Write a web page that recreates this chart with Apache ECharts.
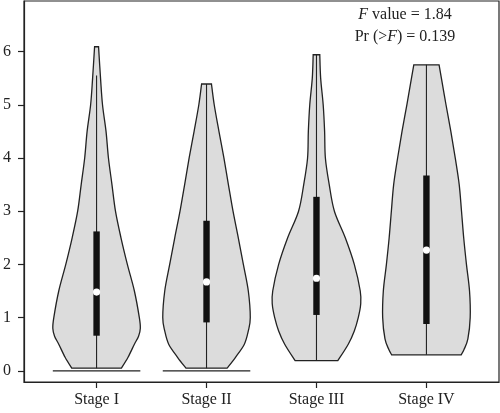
<!DOCTYPE html>
<html>
<head>
<meta charset="utf-8">
<script src="https://cdn.jsdelivr.net/npm/echarts@6/dist/echarts.min.js"></script>
<style>html,body{margin:0;padding:0;background:#fff;}#c{width:500px;height:413px;}</style>
</head>
<body>
<div id="c"></div>
<script>
const stages = ['Stage I', 'Stage II', 'Stage III', 'Stage IV'];
const yTicks = [0, 1, 2, 3, 4, 5, 6];

// violin outline: value levels and half-widths (in category units)
const levelsI   = [0.05, 0.25, 0.5, 0.65, 0.8, 1.0, 1.5, 2.0, 2.5, 3.0, 3.5, 4.0, 4.5, 5.0, 5.5, 6.09];
const widthsI   = [0.226, 0.285, 0.344, 0.382, 0.398, 0.389, 0.344, 0.280, 0.222, 0.172, 0.140, 0.108, 0.086, 0.054, 0.036, 0.018];
const levelsII  = [0.05, 0.25, 0.5, 0.75, 1.0, 1.5, 2.0, 2.5, 3.0, 3.5, 4.0, 4.5, 5.0, 5.39];
const widthsII  = [0.187, 0.262, 0.344, 0.380, 0.398, 0.380, 0.335, 0.289, 0.241, 0.199, 0.158, 0.113, 0.070, 0.045];
const levelsIII = [0.19, 0.5, 0.75, 1.0, 1.25, 1.5, 2.0, 2.5, 3.0, 3.5, 4.0, 4.5, 5.0, 5.5, 5.94];
const widthsIII = [0.194, 0.289, 0.344, 0.380, 0.402, 0.398, 0.344, 0.262, 0.163, 0.116, 0.081, 0.074, 0.061, 0.038, 0.030];
const levelsIV  = [0.30, 0.4, 0.6, 1.0, 1.5, 2.0, 2.5, 3.0, 3.5, 4.0, 4.5, 5.0, 5.5, 5.75];
const widthsIV  = [0.316, 0.342, 0.377, 0.398, 0.392, 0.364, 0.339, 0.319, 0.298, 0.262, 0.222, 0.178, 0.136, 0.115];

// box plot summaries
const whiskerLow  = [0.05, 0.05, 0.19, 0.30];
const q1Values    = [0.66, 0.91, 1.05, 0.88];
const medianVals  = [1.48, 1.67, 1.74, 2.27];
const q3Values    = [2.62, 2.82, 3.27, 3.67];
const whiskerHigh = [5.55, 5.39, 5.94, 5.75];

// flat base line at zero (half-width), null if none
const baseHalfWidth = [0.398, 0.398, null, null];

const allLevels = [levelsI, levelsII, levelsIII, levelsIV];
const allWidths = [widthsI, widthsII, widthsIII, widthsIV];

const ink = '#222';

// smooth curve (Catmull-Rom -> cubic Bezier) through pixel points
function curveThrough(pts) {
  let d = '';
  for (let k = 0; k < pts.length - 1; k++) {
    const p0 = pts[Math.max(k - 1, 0)], p1 = pts[k], p2 = pts[k + 1], p3 = pts[Math.min(k + 2, pts.length - 1)];
    const c1 = [p1[0] + (p2[0] - p0[0]) / 6, p1[1] + (p2[1] - p0[1]) / 6];
    const c2 = [p2[0] - (p3[0] - p1[0]) / 6, p2[1] - (p3[1] - p1[1]) / 6];
    d += ' C' + c1[0].toFixed(2) + ' ' + c1[1].toFixed(2) + ' ' + c2[0].toFixed(2) + ' ' + c2[1].toFixed(2) + ' ' + p2[0].toFixed(2) + ' ' + p2[1].toFixed(2);
  }
  return d;
}

function renderViolin(params, api) {
  const i = api.value(0) - 1;
  const cx = i + 1;
  const lv = allLevels[i], wd = allWidths[i];
  const left = [], right = [];
  for (let k = 0; k < lv.length; k++) left.push(api.coord([cx - wd[k], lv[k]]));
  for (let k = lv.length - 1; k >= 0; k--) right.push(api.coord([cx + wd[k], lv[k]]));
  let d = 'M' + left[0][0].toFixed(2) + ' ' + left[0][1].toFixed(2) + curveThrough(left);
  d += ' L' + right[0][0].toFixed(2) + ' ' + right[0][1].toFixed(2) + curveThrough(right) + ' Z';
  const children = [];
  children.push({
    type: 'path',
    shape: { pathData: d },
    style: { fill: '#dcdcdc', stroke: ink, lineWidth: 1.3 }
  });
  if (baseHalfWidth[i] != null) {
    const a = api.coord([cx - baseHalfWidth[i], 0]);
    const b = api.coord([cx + baseHalfWidth[i], 0]);
    children.push({ type: 'line', shape: { x1: a[0], y1: a[1], x2: b[0], y2: b[1] }, style: { stroke: ink, lineWidth: 1.3 } });
  }
  const wl = api.coord([cx, whiskerLow[i]]);
  const wh = api.coord([cx, whiskerHigh[i]]);
  children.push({ type: 'line', shape: { x1: wl[0], y1: wl[1], x2: wh[0], y2: wh[1] }, style: { stroke: ink, lineWidth: 1.1 } });
  const b1 = api.coord([cx, q1Values[i]]);
  const b3 = api.coord([cx, q3Values[i]]);
  children.push({ type: 'rect', shape: { x: b1[0] - 3.2, y: b3[1], width: 6.4, height: b1[1] - b3[1] }, style: { fill: '#111' } });
  const m = api.coord([cx, medianVals[i]]);
  children.push({ type: 'circle', shape: { cx: m[0], cy: m[1], r: 3.6 }, style: { fill: '#fff' } });
  return { type: 'group', children: children };
}

const chart = echarts.init(document.getElementById('c'), null, { renderer: 'canvas' });
const font = 'Liberation Serif';
const richItalic = { i: { fontStyle: 'italic', fontFamily: font, fontSize: 16, fill: ink } };
chart.setOption({
  animation: false,
  backgroundColor: '#fff',
  grid: { left: 21, right: 1, top: 1, bottom: 31, show: true, borderColor: ink, borderWidth: 1.2, backgroundColor: 'transparent' },
  xAxis: {
    type: 'value', min: 0.34, max: 4.66,
    splitLine: { show: false },
    axisLine: { show: true, onZero: false, lineStyle: { color: ink, width: 1.2 } },
    axisTick: { show: true, length: 6, customValues: [1, 2, 3, 4], lineStyle: { color: ink, width: 1.2 } },
    axisLabel: { customValues: [1, 2, 3, 4], formatter: v => stages[Math.round(v) - 1], color: ink, fontFamily: font, fontSize: 16, margin: 10 }
  },
  yAxis: {
    type: 'value', min: -0.21, max: 6.95,
    splitLine: { show: false },
    axisLine: { show: true, onZero: false, lineStyle: { color: ink, width: 1.2 } },
    axisTick: { show: true, length: 6, customValues: yTicks, lineStyle: { color: ink, width: 1.2 } },
    axisLabel: { customValues: yTicks, color: ink, fontFamily: font, fontSize: 16, margin: 13 }
  },
  graphic: [
    { type: 'text', x: 405, y: 15, style: { text: '{i|F} value = 1.84', rich: richItalic, fontFamily: font, fontSize: 16, fill: ink, align: 'center', verticalAlign: 'middle' } },
    { type: 'text', x: 405, y: 37, style: { text: 'Pr (>{i|F}) = 0.139', rich: richItalic, fontFamily: font, fontSize: 16, fill: ink, align: 'center', verticalAlign: 'middle' } }
  ],
  series: [{
    type: 'custom',
    renderItem: renderViolin,
    data: [[1], [2], [3], [4]],
    encode: { x: 0 },
    silent: true
  }]
});
</script>
</body>
</html>
